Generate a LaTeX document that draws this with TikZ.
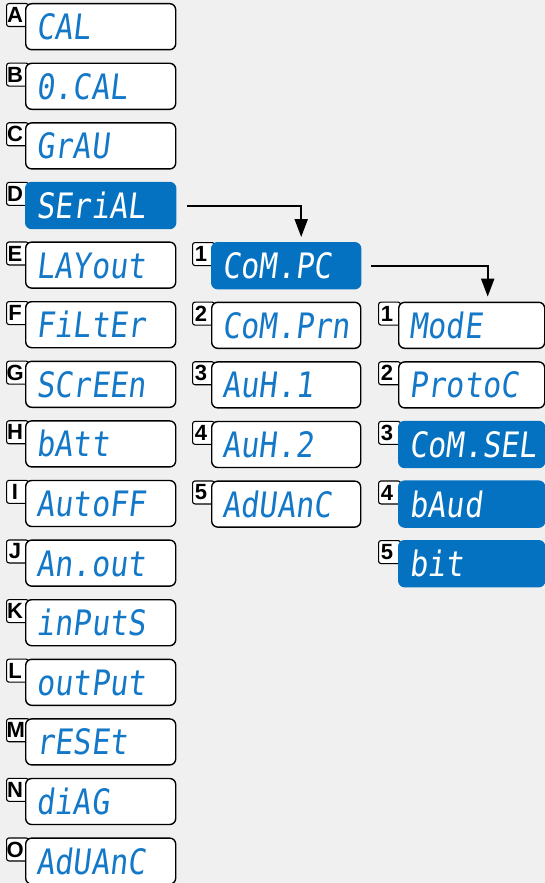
\documentclass[tikz,border=0pt]{standalone}
\usepackage{fontspec}
\usetikzlibrary{arrows.meta,calc}
\newfontfamily\segfont[FakeStretch=0.86,FakeSlant=0.12]{DejaVu Sans Mono}
\newfontfamily\lblfont{Liberation Sans}
\definecolor{bgc}{HTML}{F0F0F0}
\definecolor{hib}{HTML}{0572C1}
\definecolor{segtxt}{HTML}{1478C8}
\tikzset{
  dispbox/.style={draw=black, line width=1.4pt, rounded corners=6pt, fill=white,
    text=segtxt, anchor=north west, minimum height=46pt, inner xsep=11pt, inner ysep=10pt,
    text height=26pt, text depth=0pt, align=left, font=\segfont\fontsize{35}{36}\selectfont},
  hibox/.style={fill=hib, draw=hib, text=white},
  lbl/.style={draw=black, line width=1.1pt, rounded corners=2.5pt, fill=white, anchor=north west,
    minimum width=22pt, minimum height=23pt, inner sep=0pt,
    font=\lblfont\bfseries\fontsize{22}{22}\selectfont},
  arr/.style={draw=black, line width=2pt, -{Triangle[width=13pt,length=18pt]}}
}
\begin{document}
\begin{tikzpicture}[x=1pt,y=-1pt]
\fill[bgc] (0,0) rectangle (545,883);
\useasboundingbox (0,0) rectangle (545,883);
% left column
\foreach \t/\l/\s [count=\i from 0] in {CAL/A/,0.CAL/B/,GrAU/C/,SEriAL/D/hibox,LAYout/E/,FiLtEr/F/,SCrEEn/G/,bAtt/H/,AutoFF/I/,An.out/J/,inPutS/K/,outPut/L/,rESEt/M/,diAG/N/,AdUAnC/O/}{
  \node[lbl] (lab\l) at (6,{3+59.6*\i}) {\l\hspace*{5pt}};
  \node[dispbox,\s,text width=128pt] (L\l) at (25,{3+59.6*\i}) {\t};
}
% middle column
\foreach \t/\s [count=\i from 1] in {CoM.PC/hibox,CoM.Prn/,AuH.1/,AuH.2/,AdUAnC/}{
  \node[lbl] (labm\i) at (192,{242+59.6*(\i-1)}) {\i\hspace*{5pt}};
  \node[dispbox,\s,text width=127pt] (M\i) at (211,{242+59.6*(\i-1)}) {\t};
}
% right column
\foreach \t/\s [count=\i from 1] in {ModE/,ProtoC/,CoM.SEL/hibox,bAud/hibox,bit/hibox}{
  \node[lbl] (labr\i) at (378,{301.6+59.6*(\i-1)}) {\i\hspace*{5pt}};
  \node[dispbox,\s,text width=124pt] (R\i) at (398,{301.6+59.6*(\i-1)}) {\t};
}
% arrows
\coordinate (s1) at ($(LD.east)+(11,0)$);
\coordinate (e1) at ($(M1.north)+(15,-5)$);
\draw[arr] (s1) -| (e1);
\coordinate (s2) at ($(M1.east)+(10,0)$);
\coordinate (e2) at ($(R1.north)+(16,-5)$);
\draw[arr] (s2) -| (e2);
\end{tikzpicture}
\end{document}
